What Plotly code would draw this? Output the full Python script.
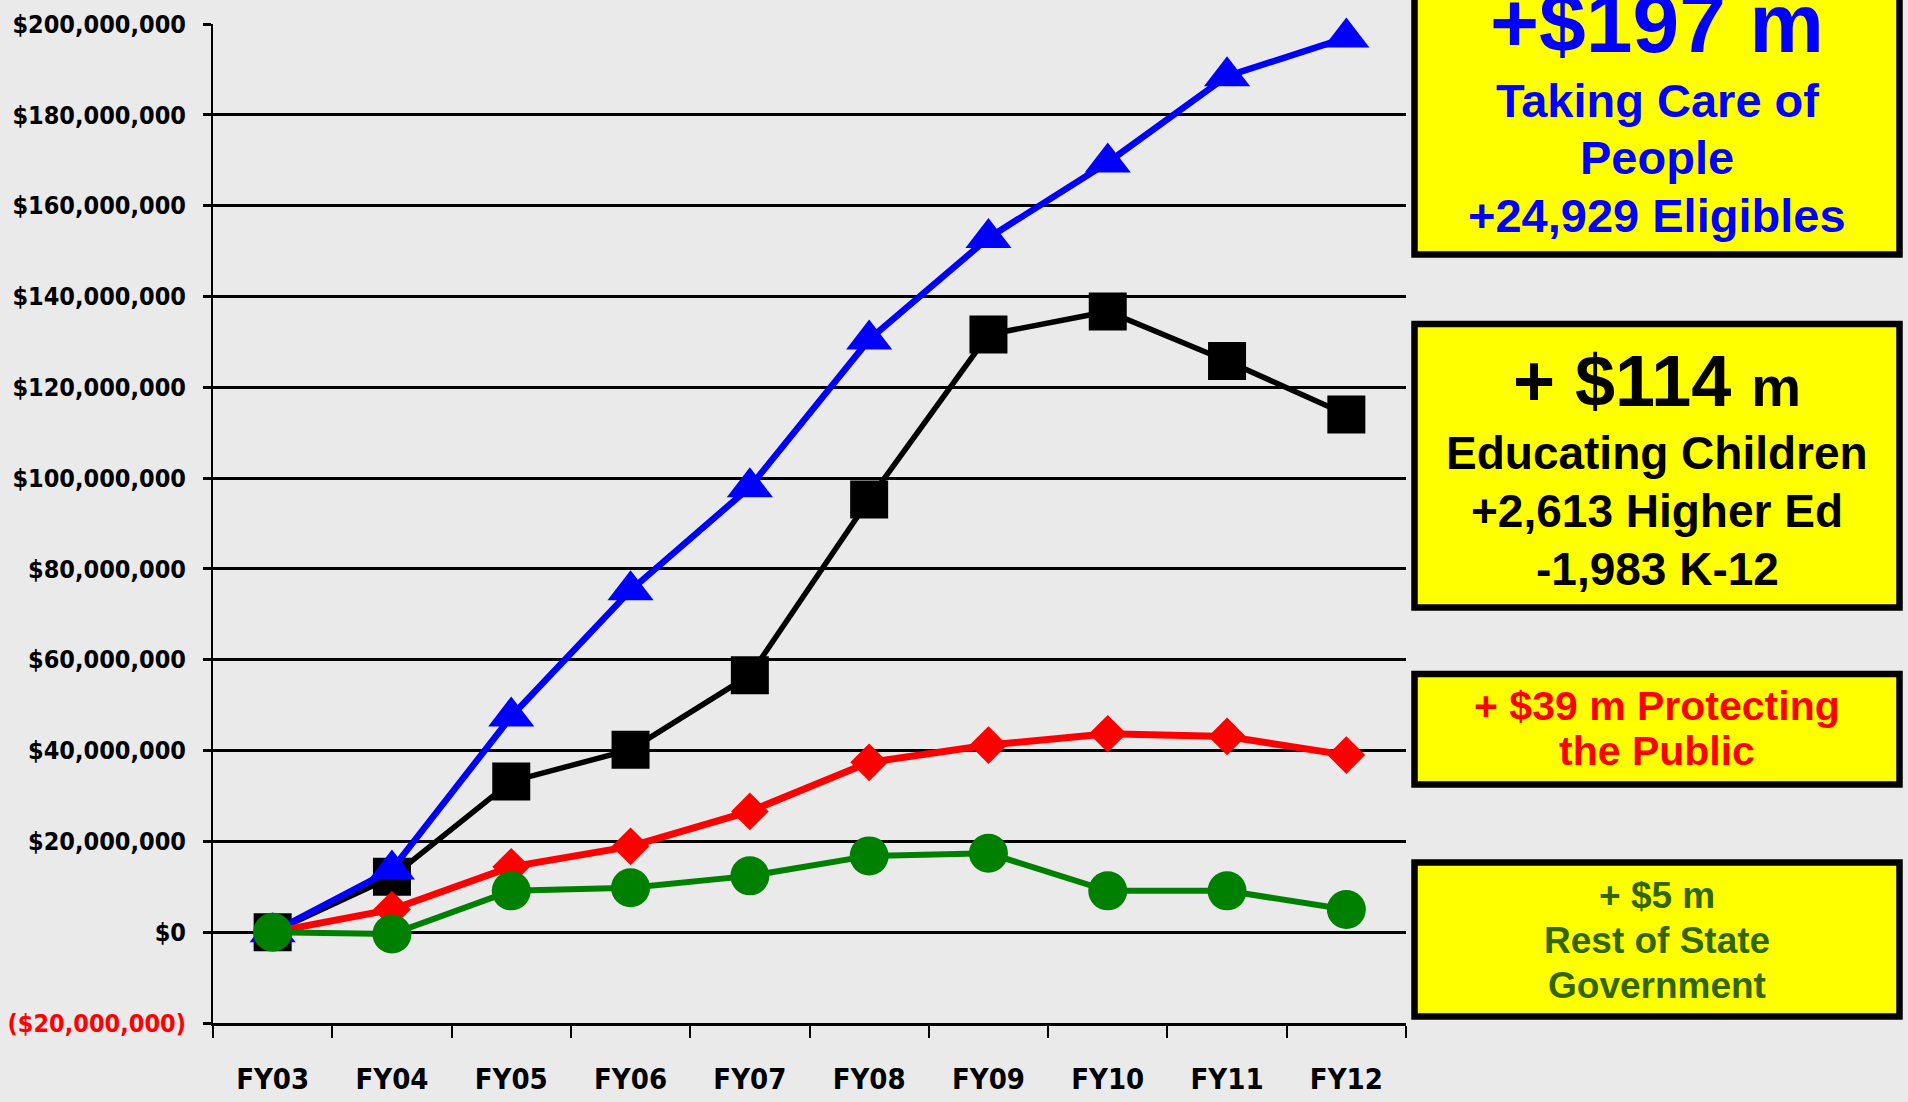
import plotly.graph_objects as go

# Cumulative growth in state spending since FY03, by area (millions of dollars)
fiscal_years = ["FY03", "FY04", "FY05", "FY06", "FY07", "FY08", "FY09", "FY10", "FY11", "FY12"]
taking_care_of_people = [0, 13.8, 47.5, 75.3, 98.0, 130.5, 152.9, 169.5, 188.5, 197.0]
educating_children = [0, 12.2, 33.2, 40.2, 56.6, 95.3, 131.6, 136.7, 125.8, 114.0]
protecting_the_public = [0, 5.0, 14.4, 18.9, 26.6, 37.4, 41.2, 43.7, 43.1, 39.0]
rest_of_government = [0, -0.4, 9.1, 9.8, 12.4, 16.8, 17.4, 9.1, 9.1, 5.0]

y_ticks = list(range(-20, 201, 20))  # millions


def money_label(m):
    v = int(m * 1_000_000)
    if v < 0:
        return '<span style="color:#FF0000">(${:,})</span>'.format(-v)
    return "${:,}".format(v)


# Plot-area geometry in pixels, used to place the callout boxes
W, H = 1908, 1102
PL, PR, PT, PB = 213, 1406, 24, 1023


def px(x):
    return (x - PL) / (PR - PL)


def py(y):
    return (PB - y) / (PB - PT)


BG = "#EAEAEA"
NARROW = "DejaVu Sans Condensed, Liberation Sans Narrow, sans-serif"
SANS = "Liberation Sans, Arial, sans-serif"

series = [
    (educating_children, "#000000", "square", 38, 5.5),
    (taking_care_of_people, "#0000FF", "triangle-up", 40, 6.5),
    (protecting_the_public, "#FF0000", "diamond", 29, 7),
    (rest_of_government, "#008000", "circle", 39, 6),
]

fig = go.Figure()
for values, color, symbol, msize, lwidth in series:
    fig.add_trace(go.Scatter(
        x=fiscal_years,
        y=[v * 1_000_000 for v in values],
        mode="lines+markers",
        line=dict(color=color, width=lwidth),
        marker=dict(symbol=symbol, size=msize, color=color, line=dict(width=0)),
        cliponaxis=False,
        showlegend=False,
        hoverinfo="skip",
    ))

# Yellow callout boxes on the right
boxes = [(-20, 254.5), (324, 607.5), (674, 784.5), (862.5, 1016.5)]
for top, bottom in boxes:
    fig.add_shape(type="rect", xref="paper", yref="paper",
                  x0=px(1414.5), x1=px(1899.5), y0=py(bottom), y1=py(top),
                  fillcolor="#FFFF00", line=dict(color="#000000", width=6.5),
                  layer="above")

CX = 1657
callout_lines = [
    ("+$197 m", 84, 52, "#0000FF"),
    ("Taking Care of", 47, 117, "#0000FF"),
    ("People", 47, 174, "#0000FF"),
    ("+24,929 Eligibles", 47, 232, "#0000FF"),
    ('+ $114 <span style="font-size:56px">m</span>', 72, 406, "#000000"),
    ("Educating Children", 46, 469, "#000000"),
    ("+2,613 Higher Ed", 46, 527, "#000000"),
    ("-1,983 K-12", 46, 585, "#000000"),
    ("+ $39 m Protecting", 41, 720, "#FF0000"),
    ("the Public", 41, 765, "#FF0000"),
    ("+ $5 m", 37, 908, "#336600"),
    ("Rest of State", 37, 953, "#336600"),
    ("Government", 37, 998, "#336600"),
]
for text, size, baseline, color in callout_lines:
    fig.add_annotation(
        text="<b>" + text + "</b>", xref="paper", yref="paper",
        x=px(CX), y=py(baseline - 0.35 * size),
        xanchor="center", yanchor="middle", showarrow=False,
        font=dict(family=SANS, size=size, color=color),
    )

fig.update_layout(
    width=W, height=H, autosize=False,
    margin=dict(l=PL, r=W - PR, t=PT, b=H - PB, pad=0, autoexpand=False),
    paper_bgcolor=BG, plot_bgcolor=BG,
    xaxis=dict(
        type="category", range=[-0.5, 9.5], tickson="boundaries",
        showgrid=False, showline=True, linecolor="#000000", linewidth=2.5,
        ticks="outside", ticklen=12, tickwidth=1.5, tickcolor="#000000",
        tickfont=dict(family=NARROW, size=29, color="#000000", weight="bold"),
        ticklabelstandoff=28, zeroline=False, automargin=False,
    ),
    yaxis=dict(
        range=[-20_000_000, 200_000_000],
        tickvals=[t * 1_000_000 for t in y_ticks],
        ticktext=[money_label(t) for t in y_ticks],
        showgrid=True, gridcolor="#000000", gridwidth=2.5,
        showline=True, linecolor="#000000", linewidth=2,
        ticks="outside", ticklen=8, tickwidth=2.5, tickcolor="#000000",
        tickfont=dict(family=NARROW, size=25, color="#000000", weight="bold"),
        ticklabelstandoff=12, zeroline=False, automargin=False,
    ),
)

fig.write_html("out.html")
